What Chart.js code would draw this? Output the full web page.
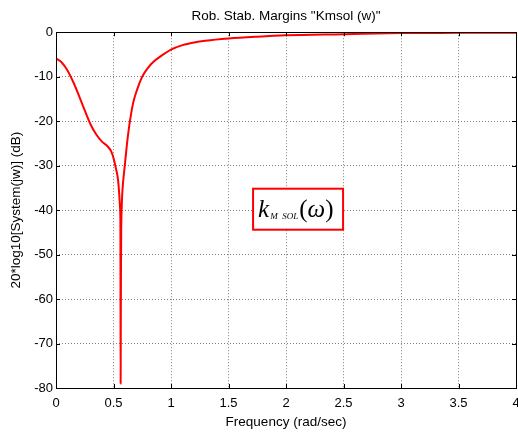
<!DOCTYPE html>
<html>
<head>
<meta charset="utf-8">
<script src="https://cdn.jsdelivr.net/npm/chart.js@4/dist/chart.umd.min.js"></script>
<style>
html,body{margin:0;padding:0;background:#fff;}
#wrap{position:relative;width:518px;height:433px;}
</style>
</head>
<body>
<div id="wrap"><canvas id="c" width="518" height="433"></canvas></div>
<script>
const chartTitle = 'Rob. Stab. Margins "Kmsol (w)"';
const xLabel = 'Frequency (rad/sec)';
const yLabel = '20*log10[System(jw)] (dB)';
const xTicks = [0, 0.5, 1, 1.5, 2, 2.5, 3, 3.5, 4];
const yTicks = [-80, -70, -60, -50, -40, -30, -20, -10, 0];
const frequency = [0, 0.05, 0.1, 0.15, 0.2, 0.25, 0.3, 0.35, 0.4, 0.45, 0.48, 0.5, 0.52, 0.54, 0.55, 0.557, 0.56, 0.561, 0.562, 0.563, 0.565, 0.567, 0.571, 0.58, 0.59, 0.6, 0.62, 0.64, 0.67, 0.7, 0.75, 0.8, 0.85, 0.9, 1.0, 1.1, 1.2, 1.3, 1.5, 1.75, 2, 2.5, 3, 3.5, 4];
const magnitudeDb = [-5.9, -6.8, -8.6, -11.2, -14.3, -17.6, -20.7, -23.0, -24.6, -25.7, -26.8, -28.3, -30.5, -33.3, -36.5, -39.5, -43, -60, -79, -70, -54, -45, -39.5, -34.8, -32, -29.5, -24.5, -20.5, -16, -13.3, -10, -8.0, -6.6, -5.6, -3.9, -2.9, -2.3, -1.9, -1.4, -1.0, -0.7, -0.45, -0.2, -0.15, -0.1];
const annotation = {x: 2.105, y: -39.8, main: 'k', sub: 'M  SOL'};

const points = frequency.map((f, i) => ({x: f, y: magnitudeDb[i]}));
const FONT = 'Liberation Sans, Arial, sans-serif';

const framePlugin = {
  id: 'frame',
  afterDraw(chart) {
    const ctx = chart.ctx, a = chart.chartArea;
    const xs = chart.scales.x, ys = chart.scales.y;
    ctx.save();
    // annotation box
    const cx = xs.getPixelForValue(annotation.x), cy = ys.getPixelForValue(annotation.y);
    const bw = 90, bh = 41;
    ctx.fillStyle = '#fff';
    ctx.fillRect(cx - bw/2, cy - bh/2, bw, bh);
    ctx.strokeStyle = '#ff0000';
    ctx.lineWidth = 2;
    ctx.strokeRect(cx - bw/2, cy - bh/2, bw, bh);
    ctx.fillStyle = '#000';
    ctx.textBaseline = 'alphabetic';
    ctx.textAlign = 'left';
    const serif = '"Liberation Serif", "Times New Roman", serif';
    ctx.font = 'italic 25px ' + serif;
    let tx = cx - bw/2 + 5, ty = cy + 8;
    ctx.fillText(annotation.main, tx, ty);
    tx += ctx.measureText(annotation.main).width + 1;
    ctx.font = 'italic 9px ' + serif;
    ctx.fillText(annotation.sub, tx, ty + 2);
    tx += ctx.measureText(annotation.sub).width + 1;
    ctx.font = '25px ' + serif;
    ctx.fillText('(', tx, ty);
    tx += ctx.measureText('(').width;
    ctx.font = 'italic 25px ' + serif;
    ctx.fillText('\u03C9', tx, ty);
    tx += ctx.measureText('\u03C9').width;
    ctx.font = '25px ' + serif;
    ctx.fillText(')', tx, ty);
    // frame
    ctx.strokeStyle = '#000';
    ctx.lineWidth = 1;
    ctx.strokeRect(Math.round(a.left) + 0.5, Math.round(a.top) + 0.5, Math.round(a.right - a.left), Math.round(a.bottom - a.top));
    // inward ticks
    ctx.beginPath();
    xTicks.forEach(v => {
      const px = Math.round(xs.getPixelForValue(v)) + 0.5;
      ctx.moveTo(px, a.bottom); ctx.lineTo(px, a.bottom - 4);
      ctx.moveTo(px, a.top); ctx.lineTo(px, a.top + 4);
    });
    yTicks.forEach(v => {
      const py = Math.round(ys.getPixelForValue(v)) + 0.5;
      ctx.moveTo(a.left, py); ctx.lineTo(a.left + 4, py);
      ctx.moveTo(a.right, py); ctx.lineTo(a.right - 4, py);
    });
    ctx.stroke();
    ctx.restore();
  }
};

new Chart(document.getElementById('c'), {
  type: 'line',
  data: {
    datasets: [{
      data: points,
      borderColor: '#ff0000',
      borderWidth: 2,
      pointRadius: 0,
      cubicInterpolationMode: 'monotone',
      fill: false
    }]
  },
  options: {
    responsive: false,
    animation: false,
    layout: {padding: {left: 0, right: 2, top: 0, bottom: 0}},
    plugins: {
      legend: {display: false},
      tooltip: {enabled: false},
      title: {
        display: true,
        fullSize: false,
        text: chartTitle,
        color: '#000',
        font: {family: FONT, size: 13.5, weight: 'normal'},
        padding: {top: 8, bottom: 8}
      }
    },
    scales: {
      x: {
        type: 'linear',
        min: 0, max: 4,
        afterBuildTicks(s) { s.ticks = xTicks.map(v => ({value: v})); },
        afterFit(s) { s.height = 45; s.paddingLeft = 0; s.paddingRight = 0; },
        ticks: {
          color: '#000',
          font: {family: FONT, size: 13},
          padding: 8,
          maxRotation: 0,
          autoSkip: false,
          callback: v => String(v)
        },
        grid: {
          color: '#808080',
          lineWidth: 1,
          drawTicks: false,
          tickLength: 0
        },
        border: {display: false, dash: [1, 2]},
        title: {
          display: true,
          text: xLabel,
          color: '#000',
          font: {family: FONT, size: 13.5},
          padding: {top: 0, bottom: 3}
        }
      },
      y: {
        type: 'linear',
        min: -80, max: 0,
        afterBuildTicks(s) { s.ticks = yTicks.map(v => ({value: v})); },
        afterFit(s) { s.width = 56; s.paddingTop = 0; s.paddingBottom = 0; },
        ticks: {
          color: '#000',
          font: {family: FONT, size: 13},
          padding: 3,
          autoSkip: false,
          callback: v => String(v)
        },
        grid: {
          color: '#808080',
          lineWidth: 1,
          drawTicks: false,
          tickLength: 0
        },
        border: {display: false, dash: [1, 2]},
        title: {
          display: true,
          text: yLabel,
          color: '#000',
          font: {family: FONT, size: 13.5},
          padding: {top: 8, bottom: 0}
        }
      }
    }
  },
  plugins: [framePlugin]
});
</script>
</body>
</html>
